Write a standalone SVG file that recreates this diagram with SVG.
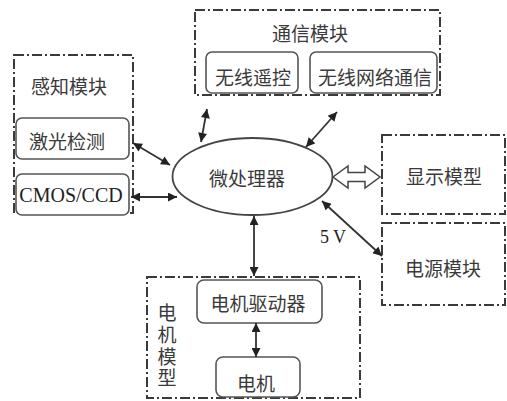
<svg xmlns="http://www.w3.org/2000/svg" width="507" height="401" viewBox="0 0 507 401">
<defs>
<style>
.grp{fill:none;stroke:#3a3a3a;stroke-width:2;stroke-dasharray:10 3 2 3}
.box{fill:#fff;stroke:#555;stroke-width:1.6}
.cn{font-family:"Noto Sans CJK SC","Noto Sans",sans-serif;font-size:19px;fill:#3a3a3a;text-anchor:middle;dominant-baseline:central}
.vt{font-family:"Noto Sans CJK SC","Noto Sans",sans-serif;font-size:19px;fill:#3a3a3a;text-anchor:middle;writing-mode:vertical-rl;letter-spacing:2.7px}
.en{font-family:"Liberation Serif",serif;font-size:20px;fill:#222;text-anchor:middle;dominant-baseline:central}
.ln{fill:none;stroke:#333;stroke-width:1.8}
</style>
<marker id="ah" viewBox="0 0 10 10" refX="10" refY="5" markerWidth="10" markerHeight="9" markerUnits="userSpaceOnUse" orient="auto-start-reverse">
<path d="M0,0 L10,5 L0,10 Z" fill="#222"/>
</marker>
</defs>
<rect width="507" height="401" fill="#fff"/>

<g id="sensing">
<rect class="grp" x="14" y="55" width="119" height="158"/>
<text class="cn" x="69" y="85">感知模块</text>
</g>
<g id="laser">
<rect class="box" x="16" y="118" width="113" height="41" rx="6"/>
<text class="cn" x="67" y="140">激光检测</text>
</g>
<g id="cmos">
<rect class="box" x="16" y="174" width="113" height="41" rx="6"/>
<text class="en" x="71" y="195">CMOS/CCD</text>
</g>

<g id="comm">
<rect class="grp" x="195" y="10" width="245" height="85"/>
<text class="cn" x="310" y="32">通信模块</text>
</g>
<g id="remote">
<rect class="box" x="206" y="52" width="92" height="41" rx="6"/>
<text class="cn" x="253" y="76">无线遥控</text>
</g>
<g id="network">
<rect class="box" x="310" y="52" width="127" height="41" rx="6"/>
<text class="cn" x="375" y="76">无线网络通信</text>
</g>

<g id="mcu">
<ellipse cx="252.5" cy="176.5" rx="80" ry="38.5" fill="#fff" stroke="#444" stroke-width="1.8"/>
<text class="cn" x="247" y="177">微处理器</text>
</g>

<g id="display">
<rect class="grp" x="382" y="135" width="123" height="79"/>
<text class="cn" x="444" y="175">显示模型</text>
</g>
<g id="power">
<rect class="grp" x="382" y="223" width="123" height="82"/>
<text class="cn" x="443" y="267">电源模块</text>
</g>

<g id="motor-module">
<rect class="grp" x="147" y="277" width="213" height="121"/>
<text class="vt" x="167" y="347">电机模型</text>
</g>
<g id="driver">
<rect class="box" x="197" y="280" width="125" height="43" rx="7"/>
<text class="cn" x="258" y="302">电机驱动器</text>
</g>
<g id="motor">
<rect class="box" x="216" y="357" width="84" height="40" rx="7"/>
<text class="cn" x="256" y="382">电机</text>
</g>

<g id="connectors">
<line class="ln" x1="133" y1="143" x2="170" y2="165" marker-start="url(#ah)" marker-end="url(#ah)"/>
<line class="ln" x1="131" y1="197" x2="177" y2="197" marker-start="url(#ah)" marker-end="url(#ah)"/>
<line class="ln" x1="207" y1="109" x2="201" y2="142" marker-start="url(#ah)" marker-end="url(#ah)"/>
<line class="ln" x1="337" y1="112" x2="306" y2="147" marker-start="url(#ah)" marker-end="url(#ah)"/>
<line class="ln" x1="322" y1="201" x2="382" y2="256" marker-start="url(#ah)" marker-end="url(#ah)"/>
<line class="ln" x1="254" y1="216" x2="254" y2="276" marker-start="url(#ah)" marker-end="url(#ah)"/>
<line class="ln" x1="256" y1="323" x2="256" y2="357" marker-start="url(#ah)" marker-end="url(#ah)"/>
<path d="M333,177 L348,166 L348,172.5 L365,172.5 L365,166 L380,177 L365,188 L365,181.5 L348,181.5 L348,188 Z" fill="#fff" stroke="#444" stroke-width="1.5"/>
<text class="en" x="333" y="237" style="font-size:18px">5 V</text>
</g>
</svg>
